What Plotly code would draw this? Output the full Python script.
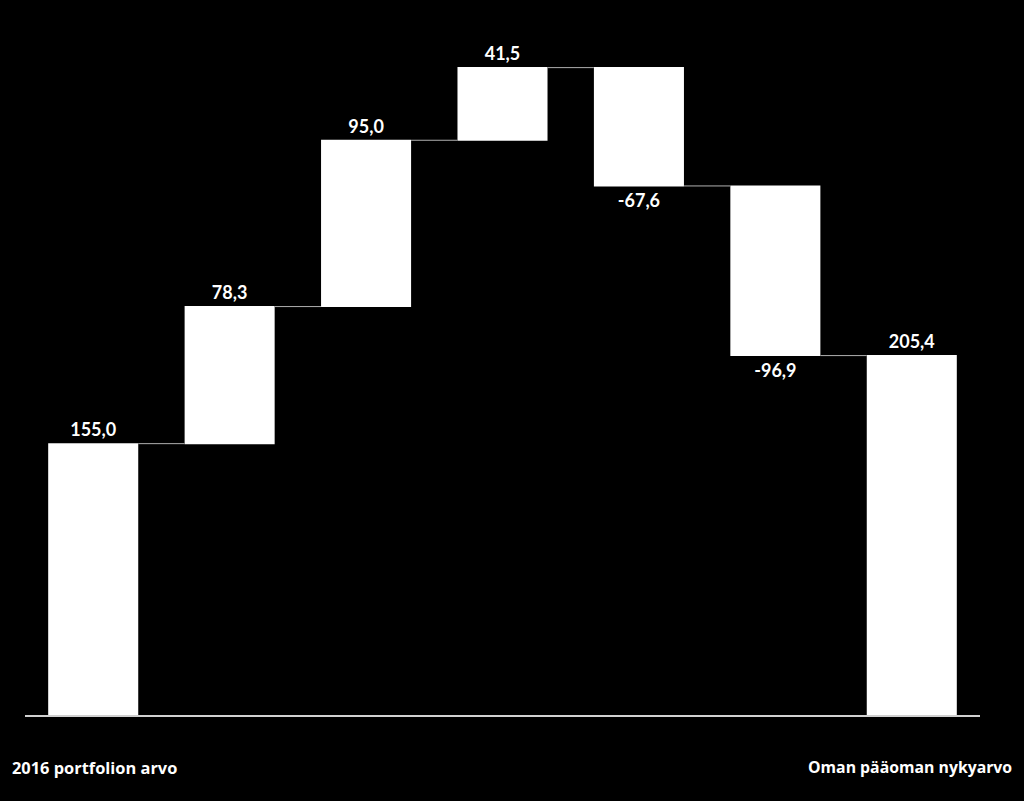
import plotly.graph_objects as go

categories = ["2016 portfolion arvo", "c2", "c3", "c4", "c5", "c6", "Oman pääoman nykyarvo"]
values = [155.0, 78.3, 95.0, 41.5, -67.6, -96.9, 205.4]
measures = ["absolute", "relative", "relative", "relative", "relative", "relative", "absolute"]
labels = ["<b>" + f"{v:.1f}".replace(".", ",") + "</b>" for v in values]

fig = go.Figure(go.Waterfall(
    x=categories, y=values, measure=measures,
    text=labels, textposition="outside",
    textfont=dict(family="Lato", size=18, color="white"),
    increasing=dict(marker=dict(color="white", line=dict(width=0))),
    decreasing=dict(marker=dict(color="white", line=dict(width=0))),
    totals=dict(marker=dict(color="white", line=dict(width=0))),
    connector=dict(mode="between", line=dict(color="#b0b0b0", width=1)),
    cliponaxis=False,
    hoverinfo="skip",
))

fig.update_layout(
    width=1024, height=801,
    paper_bgcolor="black", plot_bgcolor="black",
    margin=dict(l=25, r=44, t=41, b=86),
    waterfallgap=0.34,
    showlegend=False,
    xaxis=dict(showticklabels=False, showgrid=False, zeroline=False,
               showline=True, linecolor="#d0d0d0", linewidth=1.5, ticks=""),
    yaxis=dict(visible=False, range=[0, 385], showgrid=False, zeroline=False),
    annotations=[
        dict(text="<b>" + categories[0] + "</b>", xref="paper", yref="paper",
             x=-15/955, y=-52/674, xanchor="left", yanchor="middle", showarrow=False,
             font=dict(family="Open Sans", size=16.4, color="white")),
        dict(text="<b>" + categories[-1] + "</b>", xref="paper", yref="paper",
             x=1 + 34/955, y=-52/674, xanchor="right", yanchor="middle", showarrow=False,
             font=dict(family="Open Sans", size=15.8, color="white")),
    ],
)

fig.write_html("out.html")
